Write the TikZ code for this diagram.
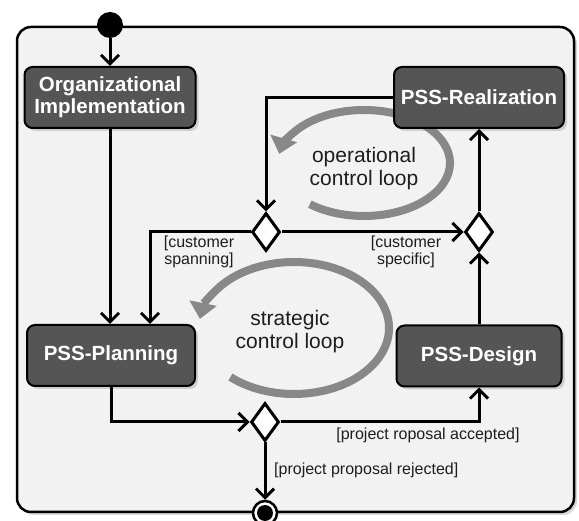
\documentclass[tikz,border=0pt]{standalone}
\usepackage{fontspec}
\setmainfont{Liberation Sans}
\usetikzlibrary{arrows.meta,shapes.geometric,shadows,calc}
\definecolor{framefill}{HTML}{F2F2F2}
\definecolor{boxfill}{HTML}{555555}
\definecolor{loopgray}{HTML}{888888}
\definecolor{txt}{HTML}{1E1E1E}
\begin{document}
\begin{tikzpicture}[x=1pt,y=-1pt,
  flow/.style={line width=3pt, -{Straight Barb[length=9pt,width=18pt]}},
  activity/.style={draw=black, line width=2pt, fill=boxfill, rounded corners=8pt,
    text=white, font=\bfseries\fontsize{20.5}{22}\selectfont, align=center,
    minimum height=61pt, inner sep=4pt,
    drop shadow={shadow xshift=3pt, shadow yshift=-3pt, opacity=0.3}},
  decision/.style={diamond, draw=black, line width=3pt, fill=white,
    minimum width=28pt, minimum height=38pt, inner sep=0pt},
  guard/.style={text=txt, font=\fontsize{16}{17}\selectfont, align=center, inner sep=0pt},
  looptext/.style={text=txt, font=\fontsize{21}{23}\selectfont, align=center, inner sep=0pt},
  loopline/.style={draw=loopgray, line width=8pt,
    -{Triangle[length=16pt,width=28pt,line width=0pt]}},
  framebox/.style={draw=black, line width=2.5pt, fill=framefill, rounded corners=14pt,
    minimum width=557pt, minimum height=485pt, inner sep=0pt,
    drop shadow={shadow xshift=3pt, shadow yshift=-3pt, opacity=0.3}},
]
\useasboundingbox (0,0) rectangle (579,521);
\fill[white] (0,0) rectangle (579,521);

% frame
\node[framebox] (frame) at (295.5,269.5) {};

% control loops (behind everything else)
\draw[loopline] (364,163) ++(129:86 and 53)
  arc[start angle=129, end angle=-170, x radius=86, y radius=53];
\draw[loopline] (294,328) ++(132:95 and 66)
  arc[start angle=132, end angle=-172, x radius=95, y radius=66];
\node[looptext] (optext) at (364,168.5) {operational\\control loop};
\node[looptext] (sttext) at (290,332) {strategic\\control loop};

% nodes
\node[circle, fill=black, minimum size=26pt, inner sep=0pt] (init) at (110,25) {};
\node[activity, minimum width=171pt] (org) at (110,97.5) {Organizational\\Implementation};
\node[activity, minimum width=170pt] (real) at (479,97.5) {PSS-Realization};
\node[activity, minimum width=168pt] (plan) at (111,355.5) {PSS-Planning};
\node[activity, minimum width=165pt] (des) at (479,356) {PSS-Design};
\node[decision] (d1) at (266,232) {};
\node[decision] (d2) at (479,232) {};
\node[decision] (d3) at (265,422) {};
\node[circle, draw=black, line width=2.5pt, fill=white, minimum size=24pt, inner sep=0pt] (fin) at (265,513) {};
\fill[black] (fin.center) circle[radius=8pt];

% connectors
\draw[flow] (init) -- (org);
\draw[flow] (org.south) -- (org.south |- plan.north);
\draw[flow] (real.west) -| (d1.north);
\draw[flow] (d1.west) -| ([xshift=39pt]plan.north);
\draw[flow] (d1.east) -- (d2.west);
\draw[flow] (d2.north) -- (real.south);
\draw[flow] (des.north) -- (d2.south);
\draw[flow] (plan.south) |- (d3.west);
\draw[flow] (d3.east) -| (des.south);
\draw[flow] (d3.south) -- (fin.north);

% guards
\node[guard] (lspan) at (199,252) {[customer\\spanning]};
\node[guard] (lspec) at (406,252) {[customer\\specific]};
\node[guard] (lacc) at (428,435) {[project roposal accepted]};
\node[guard, anchor=west] (lrej) at (274,470) {[project proposal rejected]};
\end{tikzpicture}
\end{document}
